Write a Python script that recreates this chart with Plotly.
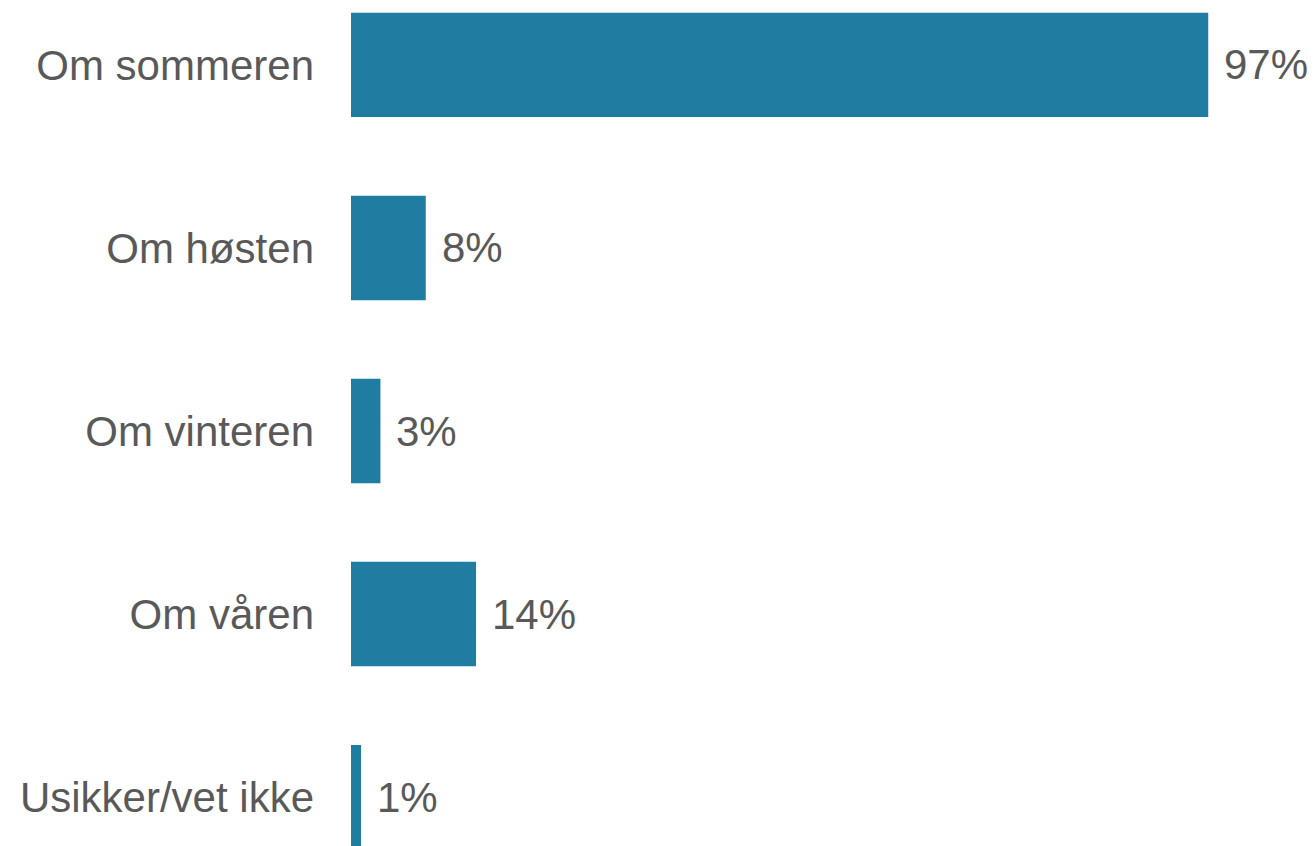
import plotly.graph_objects as go

categories = ["Om sommeren", "Om høsten", "Om vinteren", "Om våren", "Usikker/vet ikke"]
values = [97.0, 8.46, 3.33, 14.15, 1.13]
labels = ["97%", "8%", "3%", "14%", "1%"]

bar_color = "#1F7DA1"
text_color = "#595959"
font_family = "Liberation Sans, Arial, sans-serif"

fig = go.Figure()
fig.add_trace(go.Bar(
    x=values,
    y=categories,
    orientation="h",
    marker=dict(color=bar_color, line=dict(width=0)),
    hoverinfo="skip",
))

for cat, v, lab in zip(categories, values, labels):
    fig.add_annotation(
        x=v, y=cat, text=lab, showarrow=False,
        xanchor="left", yanchor="middle", xshift=14,
        font=dict(size=42, color=text_color, family=font_family),
    )

fig.update_layout(
    width=1316, height=846,
    margin=dict(l=343, r=0, t=0, b=0),
    paper_bgcolor="white", plot_bgcolor="white",
    bargap=0.43,
    showlegend=False,
    xaxis=dict(range=[0, 110.1], visible=False, fixedrange=True),
    yaxis=dict(
        categoryorder="array", categoryarray=categories,
        range=[4.311, -0.311],
        showgrid=False, zeroline=False, showline=False,
        ticks="", ticklabelstandoff=36,
        tickfont=dict(size=42, color=text_color, family=font_family),
    ),
)

fig.write_html("out.html")
